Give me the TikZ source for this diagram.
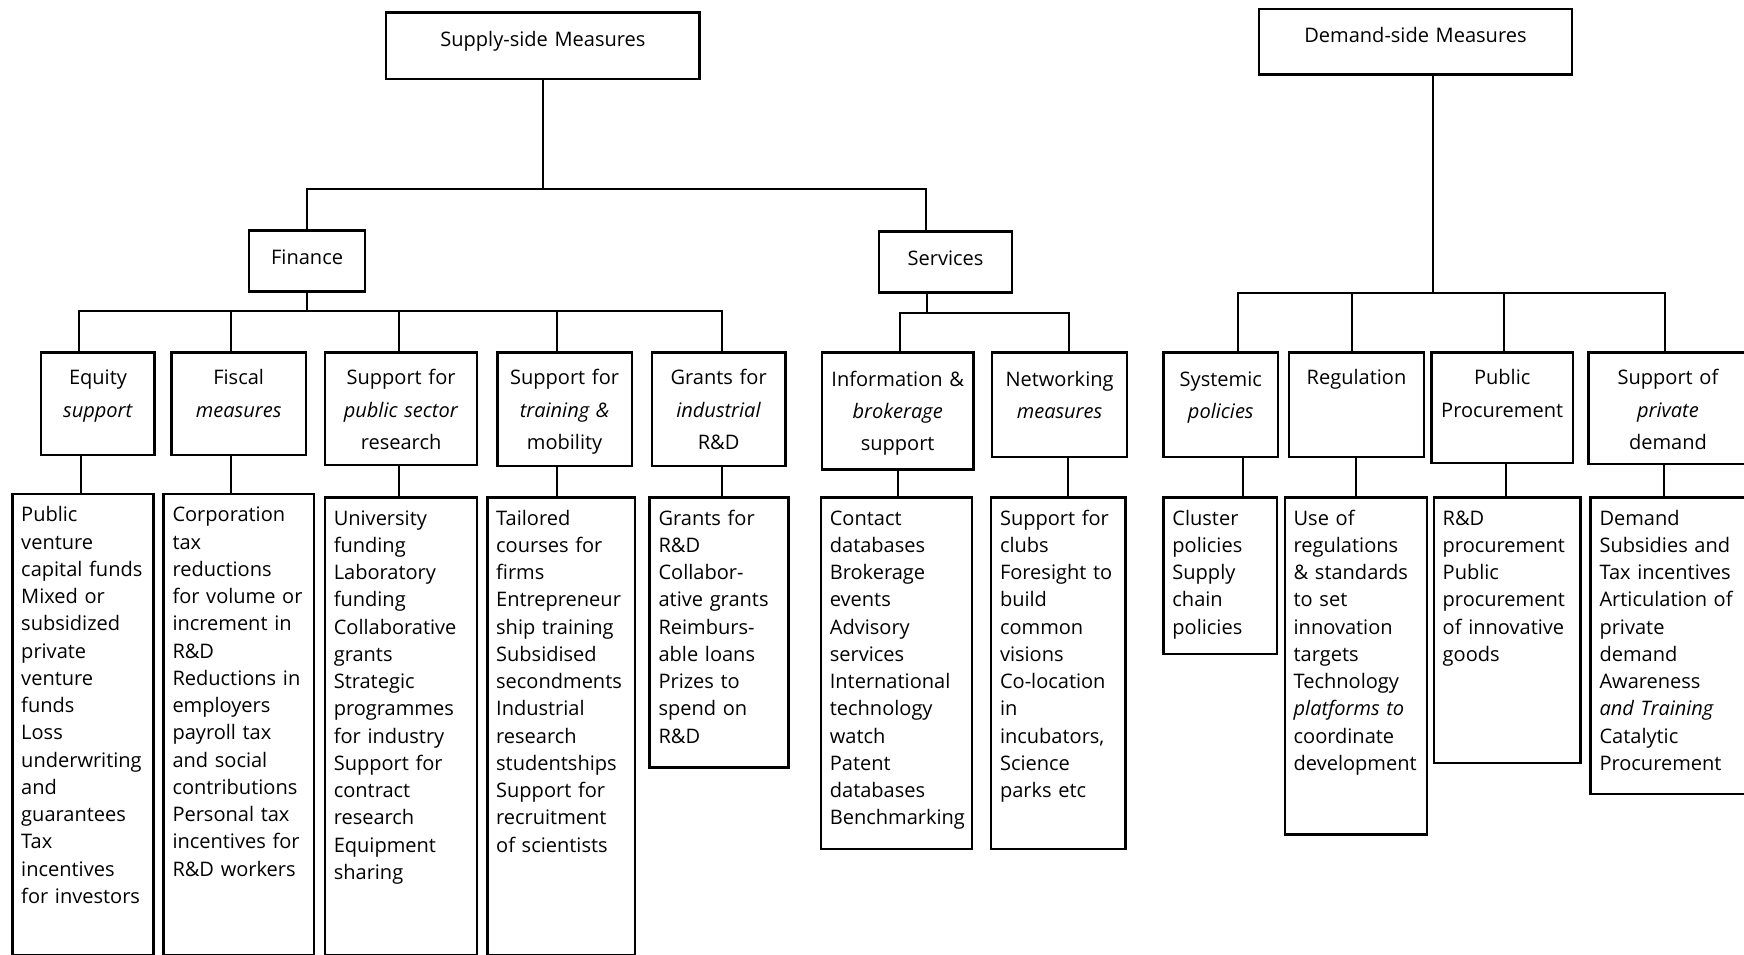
\documentclass[tikz,border=0pt]{standalone}
\usepackage{fontspec}
\setmainfont{Open Sans}
\begin{document}
\begin{tikzpicture}[x=0.5pt,y=-0.5pt,
  box/.style={draw, line width=1.1pt, inner ysep=0pt, anchor=north west},
  headbox/.style={box, inner xsep=1pt, align=center, font=\fontsize{9}{14.5}\selectfont},
  leafbox/.style={box, inner xsep=4pt, align=left, font=\fontsize{9}{12.25}\selectfont},
  link/.style={line width=0.9pt}]
\clip (0,0) rectangle (1568,858);

% top level
\node[headbox, text width=139pt, text height=15.5pt, text depth=14.5pt] (sup) at (346,10) {Supply-side Measures};
\node[headbox, text width=138.5pt, text height=15.25pt, text depth=14.25pt] (dem) at (1131,7) {Demand-side Measures};

% second level
\node[headbox, text width=50pt, text height=15.25pt, text depth=12.25pt] (fin) at (223,206) {Finance};
\node[headbox, text width=58pt, text height=15.25pt, text depth=12.25pt] (ser) at (789,207) {Services};

% instrument groups
\node[headbox, text width=49pt, text height=14.5pt, text depth=31.5pt] (eq) at (36,316) {Equity\\\textit{support}};
\node[headbox, text width=58.5pt, text height=14.5pt, text depth=31.5pt] (fis) at (153,316) {Fiscal\\\textit{measures}};
\node[headbox, text width=66.5pt, text height=14.5pt, text depth=36pt] (pub) at (291,316) {Support~for\\\textit{public~sector}\\research};
\node[headbox, text width=58.5pt, text height=14.5pt, text depth=36.5pt] (tra) at (446,316) {Support~for\\\textit{training~\&}\\mobility};
\node[headbox, text width=58pt, text height=14.5pt, text depth=36.5pt] (gra) at (585,316) {Grants~for\\\textit{industrial}\\R\&D};
\node[headbox, text width=66pt, text height=15pt, text depth=37.5pt] (inf) at (738,316) {Information~\&\\\textit{brokerage}\\support};
\node[headbox, text width=58.5pt, text height=15pt, text depth=32pt] (net) at (891,316) {Networking\\\textit{measures}};
\node[headbox, text width=49.5pt, text height=15pt, text depth=32pt] (sys) at (1045,316) {Systemic\\\textit{policies}};
\node[headbox, text width=58.5pt, text height=14.5pt, text depth=32.5pt] (reg) at (1158,316) {Regulation};
\node[headbox, text width=61.5pt, text height=14.5pt, text depth=35pt] (pro) at (1286,316) {Public\\Procurement};
\node[headbox, text width=69.5pt, text height=14.5pt, text depth=35.5pt] (pri) at (1427,316) {Support~of\\\textit{private}\\demand};

% instrument lists
\node[leafbox, text width=55.5pt, text height=12.5pt, text depth=195pt] (eqL) at (10,443)
  {Public\\venture\\capital~funds\\Mixed~or\\subsidized\\private\\venture\\funds\\Loss\\underwriting\\and\\guarantees\\Tax\\incentives\\for~investors};
\node[leafbox, text width=59.5pt, text height=12.5pt, text depth=195pt] (fisL) at (146,443)
  {Corporation\\tax\\reductions\\for~volume~or\\increment~in\\R\&D\\Reductions~in\\employers\\payroll~tax\\and~social\\contributions\\Personal~tax\\incentives~for\\R\&D~workers};
\node[leafbox, text width=60.5pt, text height=12.5pt, text depth=193.5pt] (pubL) at (291,446)
  {University\\funding\\Laboratory\\funding\\Collaborative\\grants\\Strategic\\programmes\\for~industry\\Support~for\\contract\\research\\Equipment\\sharing};
\node[leafbox, text width=58.5pt, text height=12.5pt, text depth=193.5pt] (traL) at (437,446)
  {Tailored\\courses~for\\firms\\Entrepreneur\\ship~training\\Subsidised\\secondments\\Industrial\\research\\studentships\\Support~for\\recruitment\\of~scientists};
\node[leafbox, text width=54.5pt, text height=12.5pt, text depth=109pt] (graL) at (583,446)
  {Grants~for\\R\&D\\Collabor-\\ative~grants\\Reimburs-\\able~loans\\Prizes~to\\spend~on\\R\&D};
\node[leafbox, text width=60pt, text height=12.5pt, text depth=145.5pt] (infL) at (737,446)
  {Contact\\databases\\Brokerage\\events\\Advisory\\services\\International\\technology\\watch\\Patent\\databases\\Benchmarking};
\node[leafbox, text width=52.5pt, text height=12.5pt, text depth=145.5pt] (netL) at (890,446)
  {Support~for\\clubs\\Foresight~to\\build\\common\\visions\\Co-location\\in\\incubators,\\Science\\parks~etc};
\node[leafbox, text width=43pt, text height=12.5pt, text depth=58pt] (sysL) at (1045,446)
  {Cluster\\policies\\Supply\\chain\\policies};
\node[leafbox, text width=56pt, text height=12.5pt, text depth=139pt] (regL) at (1154,446)
  {Use~of\\regulations\\\&~standards\\to~set\\innovation\\targets\\Technology\\\textit{platforms~to}\\coordinate\\development};
\node[leafbox, text width=58pt, text height=12.5pt, text depth=107pt] (proL) at (1288,446)
  {R\&D\\procurement\\Public\\procurement\\of~innovative\\goods};
\node[leafbox, text width=63.5pt, text height=12.5pt, text depth=121pt] (priL) at (1429,446)
  {Demand\\Subsidies~and\\Tax~incentives\\Articulation~of\\private\\demand\\Awareness\\\textit{and~Training}\\Catalytic\\Procurement};

% junction levels
\coordinate (j1) at (0,170);
\coordinate (j2) at (0,280);
\coordinate (j3) at (0,281);
\coordinate (j4) at (0,263);

% supply side tree
\draw[link] (sup.south) -- (sup.south |- j1) -| (fin.north);
\draw[link] (sup.south |- j1) -| ([xshift=-9pt]ser.north);

\draw[link] (fin.south) -- (fin.south |- j2) -| ([xshift=-8.5pt]eq.north);
\draw[link] (fin.south |- j2) -| ([xshift=-3.25pt]fis.north);
\draw[link] (fin.south |- j2) -| ([xshift=-0.75pt]pub.north);
\draw[link] (fin.south |- j2) -| ([xshift=-3.25pt]tra.north);
\draw[link] (fin.south |- j2) -| ([xshift=1.5pt]gra.north);

\draw[link] ([xshift=-8.5pt]ser.south) -- ([xshift=-8.5pt]ser.south |- j3) -| ([xshift=1pt]inf.north);
\draw[link] ([xshift=-8.5pt]ser.south |- j3) -| ([xshift=4.25pt]net.north);

% demand side tree
\draw[link] ([xshift=7.75pt]dem.south) -- ([xshift=7.75pt]dem.south |- j4) -| ([xshift=7.75pt]sys.north);
\draw[link] ([xshift=7.75pt]dem.south |- j4) -| ([xshift=-2.25pt]reg.north);
\draw[link] ([xshift=7.75pt]dem.south |- j4) -| ([xshift=0.75pt]pro.north);
\draw[link] ([xshift=7.75pt]dem.south |- j4) -| ([xshift=-1.25pt]pri.north);

% groups to their instrument lists
\draw[link] ([xshift=-7.5pt]eq.south) -- ([xshift=-0.75pt]eqL.north);
\draw[link] ([xshift=-3.25pt]fis.south) -- ([xshift=-3.25pt]fisL.north);
\draw[link] ([xshift=-0.75pt]pub.south) -- ([xshift=-0.75pt]pubL.north);
\draw[link] ([xshift=-3.25pt]tra.south) -- ([xshift=-1.75pt]traL.north);
\draw[link] ([xshift=1.5pt]gra.south) -- ([xshift=1.25pt]graL.north);
\draw[link] (inf.south) -- ([xshift=0.5pt]infL.north);
\draw[link] ([xshift=3.75pt]net.south) -- ([xshift=4.25pt]netL.north);
\draw[link] ([xshift=9.75pt]sys.south) -- ([xshift=10pt]sysL.north);
\draw[link] ([xshift=-0.25pt]reg.south) -- (regL.north);
\draw[link] ([xshift=1.75pt]pro.south) -- ([xshift=-0.5pt]proL.north);
\draw[link] ([xshift=-1.75pt]pri.south) -- ([xshift=-2.75pt]priL.north);
\end{tikzpicture}
\end{document}
